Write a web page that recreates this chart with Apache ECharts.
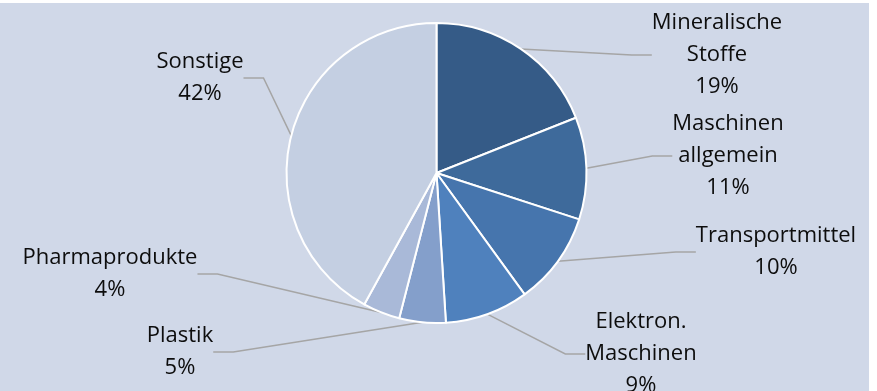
<!DOCTYPE html>
<html>
<head>
<meta charset="utf-8">
<script src="https://cdn.jsdelivr.net/npm/echarts@6/dist/echarts.min.js"></script>
<style>
  html, body { margin: 0; padding: 0; background: #fff; }
  #chart { position: absolute; left: 0; top: 3px; width: 869px; height: 388px; }
</style>
</head>
<body>
<div id="chart"></div>
<script>
// Anteile der Warengruppen (%)
var categories = ['Mineralische\nStoffe', 'Maschinen\nallgemein', 'Transportmittel', 'Elektron.\nMaschinen', 'Plastik', 'Pharmaprodukte', 'Sonstige'];
var shares = [19, 11, 10, 9, 5, 4, 42];
var colors = ['#355b87', '#3e6a9b', '#4675ad', '#4f81bd', '#849fcb', '#a9b9d8', '#c4cfe2'];

// label centres (chart px)
var labelPos = [[717, 52], [728, 153], [776, 249], [641, 351], [180, 349], [110, 271], [200, 75]];

var chart = echarts.init(document.getElementById('chart'));

var option = {
  backgroundColor: '#d0d8e8',
  animation: false,
  series: [{
    type: 'pie',
    center: [436.5, 170],
    radius: 150,
    startAngle: 90,
    clockwise: true,
    data: categories.map(function (name, i) {
      return { name: name, value: shares[i], itemStyle: { color: colors[i] } };
    }),
    itemStyle: {
      borderColor: '#ffffff',
      borderWidth: 2
    },
    label: {
      show: true,
      formatter: '{b}\n{c}%',
      fontFamily: 'Open Sans',
      fontSize: 22,
      lineHeight: 32,
      color: '#0d0d0d',
      align: 'center'
    },
    labelLine: {
      show: true,
      length: 20,
      length2: 20,
      lineStyle: { color: '#a5a5a5', width: 1.5 }
    },
    labelLayout: function (params) {
      var p = labelPos[params.dataIndex];
      return { x: p[0], y: p[1], align: 'center', verticalAlign: 'middle' };
    }
  }]
};

chart.setOption(option);
</script>
</body>
</html>
